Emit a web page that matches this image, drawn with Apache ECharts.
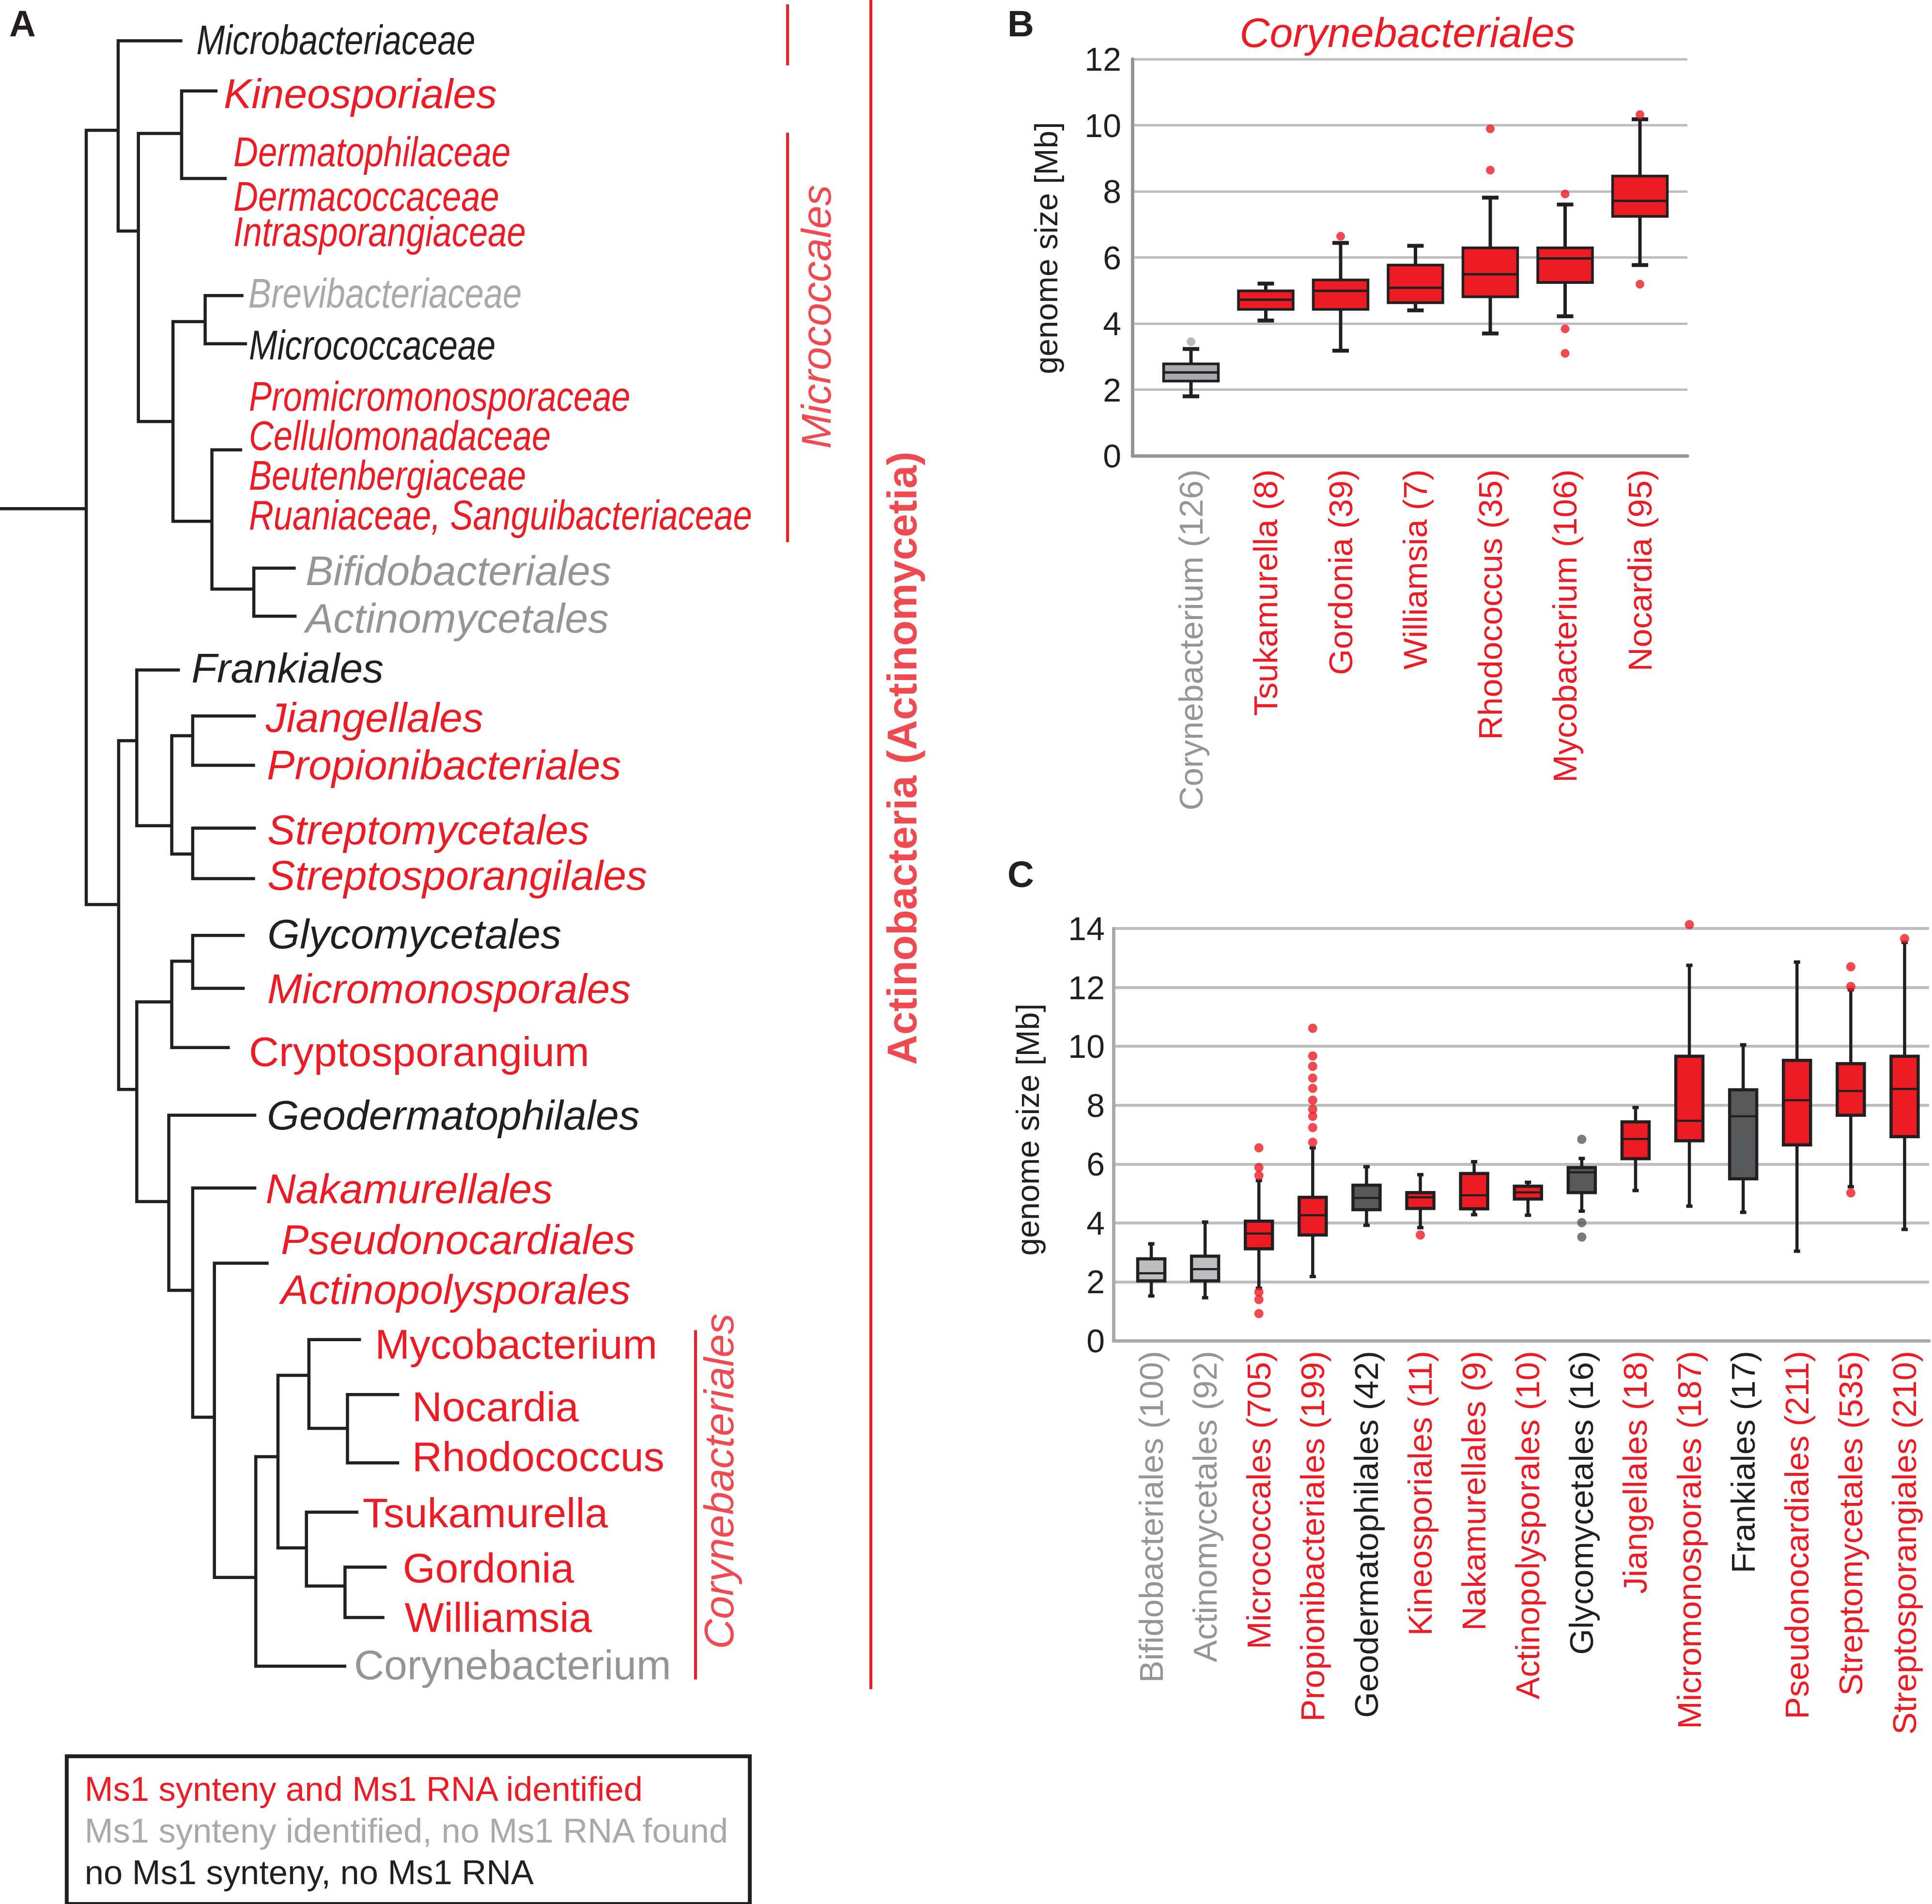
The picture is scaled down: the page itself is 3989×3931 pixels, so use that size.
<!DOCTYPE html>
<html><head><meta charset="utf-8">
<script src="https://cdn.jsdelivr.net/npm/echarts@6/dist/echarts.min.js"></script>
<style>html,body{margin:0;padding:0;background:#fff}#c{width:3989px;height:3931px}</style>
</head><body><div id="c"></div>
<script>
// ================= DATA =================
// Ms1 status categories
const statusKeys = ['rna', 'syn', 'none'];
const statusNames = {
  rna: 'Ms1 synteny and Ms1 RNA identified',
  syn: 'Ms1 synteny identified, no Ms1 RNA found',
  none: 'no Ms1 synteny, no Ms1 RNA'
};

// Panel B – Corynebacteriales genera
const bCategories = ['Corynebacterium', 'Tsukamurella', 'Gordonia', 'Williamsia', 'Rhodococcus', 'Mycobacterium', 'Nocardia'];
const bCounts = [126, 8, 39, 7, 35, 106, 95];
const bStatus = ['syn', 'rna', 'rna', 'rna', 'rna', 'rna', 'rna'];
// [lower whisker, Q1, median, Q3, upper whisker]  (genome size, Mb)
const bBoxes = [
  [1.80, 2.26, 2.52, 2.78, 3.23],
  [4.09, 4.43, 4.72, 4.99, 5.21],
  [3.18, 4.43, 4.99, 5.32, 6.44],
  [4.40, 4.63, 5.08, 5.77, 6.35],
  [3.70, 4.81, 5.49, 6.29, 7.81],
  [4.22, 5.24, 5.97, 6.29, 7.60],
  [5.77, 7.24, 7.71, 8.46, 10.18]
];
const bOutliers = [[0, 3.45], [2, 6.64], [4, 9.89], [4, 8.64], [5, 7.92], [5, 3.84], [5, 3.10], [6, 10.32], [6, 5.19]];
const bYTicks = { min: 0, max: 12, step: 2 };

// Panel C – Actinobacteria orders
const cCategories = ['Bifidobacteriales', 'Actinomycetales', 'Micrococcales', 'Propionibacteriales', 'Geodermatophilales',
  'Kineosporiales', 'Nakamurellales', 'Actinopolysporales', 'Glycomycetales', 'Jiangellales', 'Micromonosporales',
  'Frankiales', 'Pseudonocardiales', 'Streptomycetales', 'Streptosporangiales'];
const cCounts = [100, 92, 705, 199, 42, 11, 9, 10, 16, 18, 187, 17, 211, 535, 210];
const cStatus = ['syn', 'syn', 'rna', 'rna', 'none', 'rna', 'rna', 'rna', 'none', 'rna', 'rna', 'none', 'rna', 'rna', 'rna'];
const cBoxes = [
  [1.52, 2.03, 2.29, 2.78, 3.29],
  [1.46, 2.03, 2.43, 2.87, 4.03],
  [1.78, 3.12, 3.64, 4.06, 5.44],
  [2.18, 3.59, 4.26, 4.87, 6.55],
  [3.92, 4.45, 4.85, 5.28, 5.91],
  [3.84, 4.49, 4.87, 5.03, 5.64],
  [4.28, 4.48, 4.94, 5.68, 6.08],
  [4.26, 4.81, 5.04, 5.25, 5.38],
  [4.40, 5.03, 5.72, 5.88, 6.19],
  [5.10, 6.18, 6.85, 7.43, 7.92],
  [4.57, 6.79, 7.47, 9.66, 12.75],
  [4.36, 5.50, 7.62, 8.52, 10.05],
  [3.04, 6.65, 8.17, 9.52, 12.86],
  [5.23, 7.66, 8.48, 9.41, 11.92],
  [3.78, 6.93, 8.55, 9.66, 13.53]
];
const cOutliers = [
  [2, 6.55], [2, 5.88], [2, 5.61], [2, 1.65], [2, 1.40], [2, 0.92],
  [3, 10.61], [3, 9.67], [3, 9.32], [3, 8.92], [3, 8.57], [3, 8.17], [3, 7.86], [3, 7.62], [3, 7.24], [3, 6.74],
  [5, 3.59],
  [8, 6.84], [8, 4.01], [8, 3.52],
  [10, 14.13],
  [13, 12.70], [13, 12.03], [13, 5.02],
  [14, 13.66]
];
const cYTicks = { min: 0, max: 14, step: 2 };

// Panel A – cladogram (branch depth x, row y)
// internal nodes: [id, depth, row, child1, child2]
const treeNodes = [
  ['R', 70, 412.8, 'N1', 'N2'],
  ['N1', 95.9, 105.7, 'Microbacteriaceae', 'N3'],
  ['N3', 112.3, 187.5, 'N4', 'N5'],
  ['N4', 147.4, 108.3, 'Kineosporiales', 'DermGroup'],
  ['N5', 140.4, 342, 'N6', 'N7'],
  ['N6', 166.5, 261, 'Brevibacteriaceae', 'Micrococcaceae'],
  ['N7', 172, 423, 'PromicroGroup', 'N8'],
  ['N8', 206, 478, 'Bifidobacteriales', 'Actinomycetales'],
  ['N2', 96.3, 734, 'N9', 'N10'],
  ['N9', 111, 601, 'Frankiales', 'N11'],
  ['N11', 139.4, 670, 'N12', 'N13'],
  ['N12', 156.4, 597, 'Jiangellales', 'Propionibacteriales'],
  ['N13', 156.4, 693, 'Streptomycetales', 'Streptosporangilales'],
  ['N10', 111, 884, 'N14', 'N15'],
  ['N14', 139.4, 813, 'N16', 'Cryptosporangium'],
  ['N16', 156.4, 780, 'Glycomycetales', 'Micromonosporales'],
  ['N15', 137, 975, 'Geodermatophilales', 'N17'],
  ['N17', 156.4, 1047, 'Nakamurellales', 'N18'],
  ['N18', 174, 1150, 'PseudoGroup', 'N19'],
  ['N19', 207.6, 1280, 'N20', 'Corynebacterium'],
  ['N20', 225.6, 1182, 'N21', 'N22'],
  ['N21', 250.7, 1116, 'Mycobacterium', 'N23'],
  ['N23', 282, 1159, 'Nocardia', 'Rhodococcus'],
  ['N22', 248.7, 1256, 'Tsukamurella', 'N24'],
  ['N24', 280, 1287, 'Gordonia', 'Williamsia']
];
// leaf tips: [id, depth, row]
const treeTips = [
  ['Microbacteriaceae', 148, 33.1], ['Kineosporiales', 176.5, 73.8], ['DermGroup', 184, 144.8],
  ['Brevibacteriaceae', 197.6, 239.8], ['Micrococcaceae', 200.5, 279], ['PromicroGroup', 196.5, 365],
  ['Bifidobacteriales', 240, 461], ['Actinomycetales', 240.7, 500], ['Frankiales', 146, 543.7],
  ['Jiangellales', 207.6, 581], ['Propionibacteriales', 207, 621], ['Streptomycetales', 207.6, 672],
  ['Streptosporangilales', 207, 713], ['Glycomycetales', 198.6, 759], ['Micromonosporales', 198.6, 802],
  ['Cryptosporangium', 186.5, 850], ['Geodermatophilales', 208, 905], ['Nakamurellales', 208, 964],
  ['PseudoGroup', 218, 1025], ['Mycobacterium', 293, 1087], ['Nocardia', 324, 1131.6],
  ['Rhodococcus', 324, 1187], ['Tsukamurella', 290.8, 1227], ['Gordonia', 313.8, 1271.6],
  ['Williamsia', 312, 1312.5], ['Corynebacterium', 281, 1352]
];
// taxon labels: [text, Ms1 status, rank]
const taxa = [
  ['Microbacteriaceae', 'none', 'family'], ['Kineosporiales', 'rna', 'order'],
  ['Dermatophilaceae', 'rna', 'family'], ['Dermacoccaceae', 'rna', 'family'], ['Intrasporangiaceae', 'rna', 'family'],
  ['Brevibacteriaceae', 'syn', 'family'], ['Micrococcaceae', 'none', 'family'],
  ['Promicromonosporaceae', 'rna', 'family'], ['Cellulomonadaceae', 'rna', 'family'], ['Beutenbergiaceae', 'rna', 'family'],
  ['Ruaniaceae, Sanguibacteriaceae', 'rna', 'family'],
  ['Bifidobacteriales', 'syn', 'order'], ['Actinomycetales', 'syn', 'order'],
  ['Frankiales', 'none', 'order'], ['Jiangellales', 'rna', 'order'], ['Propionibacteriales', 'rna', 'order'],
  ['Streptomycetales', 'rna', 'order'], ['Streptosporangilales', 'rna', 'order'],
  ['Glycomycetales', 'none', 'order'], ['Micromonosporales', 'rna', 'order'], ['Cryptosporangium', 'rna', 'genus'],
  ['Geodermatophilales', 'none', 'order'], ['Nakamurellales', 'rna', 'order'],
  ['Pseudonocardiales', 'rna', 'order'], ['Actinopolysporales', 'rna', 'order'],
  ['Mycobacterium', 'rna', 'genus'], ['Nocardia', 'rna', 'genus'], ['Rhodococcus', 'rna', 'genus'],
  ['Tsukamurella', 'rna', 'genus'], ['Gordonia', 'rna', 'genus'], ['Williamsia', 'rna', 'genus'],
  ['Corynebacterium', 'syn', 'genus']
];
// clade brackets: [name, first row, last row]
const clades = [
  ['', 3.5, 53],
  ['Micrococcales', 107.7, 439.9],
  ['Corynebacteriales', 1079.4, 1362.8],
  ['Actinobacteria (Actinomycetia)', 0, 1370.7]
];

// ================= LAYOUT / STYLE =================
const W = 3989, H = 3931;
const TREE_W = 1568, TREE_H = 1545;           // tree coordinate space
const LABEL_AT = {                            // label anchor in tree space [x, row]
  'Microbacteriaceae': [159.4, 32.5], 'Kineosporiales': [181.6, 75.9],
  'Dermatophilaceae': [189.5, 123.3], 'Dermacoccaceae': [189.5, 159.4], 'Intrasporangiaceae': [189.5, 188],
  'Brevibacteriaceae': [201.6, 238.1], 'Micrococcaceae': [202, 280.2],
  'Promicromonosporaceae': [202, 321.5], 'Cellulomonadaceae': [202, 353.7], 'Beutenbergiaceae': [202, 385.8],
  'Ruaniaceae, Sanguibacteriaceae': [202, 418],
  'Bifidobacteriales': [248, 463], 'Actinomycetales': [248, 501.6], 'Frankiales': [155.4, 541.9],
  'Jiangellales': [215.6, 582], 'Propionibacteriales': [216.6, 620.5], 'Streptomycetales': [217, 673.4],
  'Streptosporangilales': [217, 710.3], 'Glycomycetales': [217, 757.7], 'Micromonosporales': [217, 802.3],
  'Cryptosporangium': [202, 853.2], 'Geodermatophilales': [216.6, 904.8], 'Nakamurellales': [215.6, 964.5],
  'Pseudonocardiales': [228, 1005.9], 'Actinopolysporales': [228, 1046.3],
  'Mycobacterium': [304.3, 1090.8], 'Nocardia': [334.4, 1141.2], 'Rhodococcus': [334.4, 1182],
  'Tsukamurella': [294.3, 1227.3], 'Gordonia': [326.9, 1272.2], 'Williamsia': [328.4, 1312.4],
  'Corynebacterium': [287.3, 1350.7]
};
const CLADE_X = { '': 639.2, 'Micrococcales': 639.2, 'Corynebacteriales': 564.5, 'Actinobacteria (Actinomycetia)': 706.8 };
const CLADE_LABEL_AT = { 'Micrococcales': [662.3, 257.1], 'Corynebacteriales': [583.3, 1202], 'Actinobacteria (Actinomycetia)': [731.9, 615.2] };

const DARK = '#231F20', RED = '#ED1C24', GRAY = '#939598', LGRAY = '#A7A9AC', DGRAY = '#58595B';
function fontAvailable(name) {
  const ctx = document.createElement('canvas').getContext('2d');
  const s = 'Microbacteriaceae WWmm 0123456789';
  ctx.font = '72px monospace'; const w0 = ctx.measureText(s).width;
  ctx.font = '72px "' + name + '", monospace'; const w1 = ctx.measureText(s).width;
  return Math.abs(w1 - w0) > 0.5;
}
const HAS_NARROW = fontAvailable('Liberation Sans Narrow');
const SANS = '"Liberation Sans", Arial, Helvetica, sans-serif';
const NARROW = HAS_NARROW ? '"Liberation Sans Narrow", "Arial Narrow", sans-serif' : SANS;
const NS = HAS_NARROW ? 1 : 0.82;          // font-size factor for axis/legend text when no narrow face
const NARROW_SCALE = HAS_NARROW ? 1 : 0.82; // horizontal squeeze for tree family names

const textColor = { rna: RED, syn: GRAY, none: DARK };
const legendColor = { rna: RED, syn: LGRAY, none: DARK };
const outlierColor = { rna: RED, syn: LGRAY, none: DGRAY };
const bFill = { rna: RED, syn: LGRAY, none: DGRAY };
const cFill = { rna: RED, syn: '#BCBEC0', none: DGRAY };

// ================= BUILD =================
const posMap = {};
treeTips.forEach(t => { posMap[t[0]] = [t[1], t[2]]; });
treeNodes.forEach(n => { posMap[n[0]] = [n[1], n[2]]; });
const branchData = treeNodes.map(([id, x, y, a, b]) => {
  const A = posMap[a], B = posMap[b];
  return { coords: [[A[0], A[1]], [x, A[1]], [x, B[1]], [B[0], B[1]]] };
});
const root = treeNodes[0];
branchData.push({ coords: [[0, root[2]], [root[1], root[2]]] });
const bracketData = clades.map(([name, y0, y1]) => ({ coords: [[CLADE_X[name], y0], [CLADE_X[name], y1]] }));

function taxonLabelSeries(status) {
  const idx = [];
  taxa.forEach((t, i) => { if (t[1] === status) idx.push(i); });
  return {
    type: 'custom', name: statusNames[status], xAxisIndex: 0, yAxisIndex: 0, silent: true, clip: false, z: 5,
    encode: { x: 0, y: 1 },
    data: idx.map(i => LABEL_AT[taxa[i][0]].concat([i])),
    renderItem: function (params, api) {
      const t = taxa[api.value(2)];
      const p = api.coord([api.value(0), api.value(1)]);
      const fam = t[2] === 'family';
      return {
        type: 'text', x: p[0], y: p[1], scaleX: fam ? NARROW_SCALE : 1, scaleY: 1,
        style: {
          text: t[0], fontSize: 86, fontFamily: fam ? NARROW : SANS,
          fontStyle: t[2] === 'genus' ? 'normal' : 'italic',
          fill: t[0] === 'Brevibacteriaceae' ? LGRAY : textColor[t[1]],
          align: 'left', verticalAlign: 'middle', textAlign: 'left', textVerticalAlign: 'middle'
        }
      };
    }
  };
}

function boxRenderer(fills, statuses, cfg) {
  return function (params, api) {
    const i = api.value(0);
    const lw = api.value(1), q1 = api.value(2), md = api.value(3), q3 = api.value(4), uw = api.value(5);
    const xc = api.coord([i, 0])[0];
    const bw = api.size([1, 0])[0] * cfg.ratio;
    const y = v => api.coord([i, v])[1];
    const fill = fills[statuses[i]];
    return {
      type: 'group', children: [
        { type: 'line', shape: { x1: xc, y1: y(uw), x2: xc, y2: y(lw) }, style: { stroke: DARK, lineWidth: cfg.whisker } },
        { type: 'rect', shape: { x: xc - cfg.cap / 2, y: y(uw) - cfg.capH / 2, width: cfg.cap, height: cfg.capH }, style: { fill: DARK } },
        { type: 'rect', shape: { x: xc - cfg.cap / 2, y: y(lw) - cfg.capH / 2, width: cfg.cap, height: cfg.capH }, style: { fill: DARK } },
        { type: 'rect', shape: { x: xc - bw / 2, y: y(q3), width: bw, height: y(q1) - y(q3) }, style: { fill: fill, stroke: DARK, lineWidth: cfg.border } },
        { type: 'line', shape: { x1: xc - bw / 2, y1: y(md), x2: xc + bw / 2, y2: y(md) }, style: { stroke: DARK, lineWidth: cfg.median } }
      ]
    };
  };
}

const G_B = { left: 2338, top: 122, width: 1146, height: 819 };
const G_Bbox = { left: 2381.75, top: 122, width: 1081.5, height: 819 };
const G_C = { left: 2299, top: 1917, width: 1684, height: 851 };
const G_Cbox = { left: 2321.5, top: 1917, width: 1666.5, height: 851 };

function bgAxes(grid, ticks, axisColor, labelMargin, gridColor, gridWidth) {
  return {
    x: { type: 'value', gridIndex: grid, min: 0, max: 1, axisLine: { show: true, onZero: false, lineStyle: { color: axisColor, width: 7 } },
         axisTick: { show: false }, axisLabel: { show: false }, splitLine: { show: false } },
    y: { type: 'value', gridIndex: grid, min: ticks.min, max: ticks.max, interval: ticks.step,
         axisLine: { show: true, onZero: false, lineStyle: { color: axisColor, width: 7 } }, axisTick: { show: false },
         axisLabel: { fontSize: 83 * NS, fontFamily: NARROW, color: DARK, margin: labelMargin, showMinLabel: true, showMaxLabel: true },
         splitLine: { show: true, lineStyle: { color: gridColor, width: gridWidth } } }
  };
}
function catAxis(grid, cats, counts, statuses, margin) {
  return {
    type: 'category', gridIndex: grid, data: cats.map((c, i) => c + ' (' + counts[i] + ')'),
    axisLine: { show: false }, axisTick: { show: false }, splitLine: { show: false },
    axisLabel: { interval: 0, rotate: 90, margin: margin, fontSize: 84 * NS, fontFamily: NARROW,
                 color: (v, i) => textColor[statuses[i]] }
  };
}
const bBg = bgAxes(1, bYTicks, '#939598', 23, '#BCBEC0', 5);
const cBg = bgAxes(3, cYTicks, '#A7A9AC', 18, '#BCBEC0', 6);

const option = {
  animation: false,
  backgroundColor: '#ffffff',
  grid: [
    { left: 0, top: 0, width: W, height: H, outerBoundsMode: 'none' },
    Object.assign({ outerBoundsMode: 'none' }, G_B),
    Object.assign({ outerBoundsMode: 'none' }, G_Bbox),
    Object.assign({ outerBoundsMode: 'none' }, G_C),
    Object.assign({ outerBoundsMode: 'none' }, G_Cbox)
  ],
  xAxis: [
    { type: 'value', gridIndex: 0, min: 0, max: TREE_W, show: false },
    bBg.x,
    catAxis(2, bCategories, bCounts, bStatus, 28),
    cBg.x,
    catAxis(4, cCategories, cCounts, cStatus, 21)
  ],
  yAxis: [
    { type: 'value', gridIndex: 0, min: 0, max: TREE_H, inverse: true, show: false },
    bBg.y,
    { type: 'value', gridIndex: 2, min: bYTicks.min, max: bYTicks.max, show: false },
    cBg.y,
    { type: 'value', gridIndex: 4, min: cYTicks.min, max: cYTicks.max, show: false }
  ],
  legend: {
    left: 137.8, top: 3626, orient: 'vertical', selectedMode: false,
    icon: 'none', itemWidth: 0, itemHeight: 86, itemGap: 0,
    padding: [24, 41, 23, 32], borderColor: DARK, borderWidth: 8, backgroundColor: '#fff',
    textStyle: { fontSize: 86 * NS, fontFamily: NARROW, lineHeight: 86 },
    data: statusKeys.map(k => ({ name: statusNames[k], textStyle: { color: legendColor[k] } }))
  },
  graphic: [
    { type: 'text', x: 19, y: 48, style: { text: 'A', fontSize: 76, fontWeight: 'bold', fontFamily: SANS, fill: DARK, align: 'left', verticalAlign: 'middle', textAlign: 'left', textVerticalAlign: 'middle' } },
    { type: 'text', x: 2080, y: 48, style: { text: 'B', fontSize: 76, fontWeight: 'bold', fontFamily: SANS, fill: DARK, align: 'left', verticalAlign: 'middle', textAlign: 'left', textVerticalAlign: 'middle' } },
    { type: 'text', x: 2080, y: 1804, style: { text: 'C', fontSize: 76, fontWeight: 'bold', fontFamily: SANS, fill: DARK, align: 'left', verticalAlign: 'middle', textAlign: 'left', textVerticalAlign: 'middle' } },
    { type: 'text', x: 2906, y: 67, style: { text: 'Corynebacteriales', fontSize: 86, fontStyle: 'italic', fontFamily: SANS, fill: RED, align: 'center', verticalAlign: 'middle', textAlign: 'center', textVerticalAlign: 'middle' } },
    { type: 'text', x: 2160, y: 512, rotation: Math.PI / 2, style: { text: 'genome size [Mb]', fontSize: 66, fontFamily: SANS, fill: DARK, align: 'center', verticalAlign: 'middle', textAlign: 'center', textVerticalAlign: 'middle' } },
    { type: 'text', x: 2122, y: 2332, rotation: Math.PI / 2, style: { text: 'genome size [Mb]', fontSize: 66, fontFamily: SANS, fill: DARK, align: 'center', verticalAlign: 'middle', textAlign: 'center', textVerticalAlign: 'middle' } }
  ],
  series: [
    { type: 'lines', name: 'tree', coordinateSystem: 'cartesian2d', xAxisIndex: 0, yAxisIndex: 0, polyline: true, silent: true, z: 3,
      lineStyle: { color: DARK, width: 6.5, opacity: 1, join: 'miter', cap: 'butt' }, data: branchData },
    { type: 'lines', name: 'clades', coordinateSystem: 'cartesian2d', xAxisIndex: 0, yAxisIndex: 0, polyline: true, silent: true, z: 3,
      lineStyle: { color: RED, width: 6, opacity: 1, cap: 'butt' }, data: bracketData },
    taxonLabelSeries('rna'), taxonLabelSeries('syn'), taxonLabelSeries('none'),
    { type: 'scatter', name: 'clade labels', xAxisIndex: 0, yAxisIndex: 0, symbolSize: 1, itemStyle: { color: 'rgba(0,0,0,0)' }, silent: true, z: 5,
      data: clades.filter(c => c[0]).map(c => ({
        name: c[0], value: CLADE_LABEL_AT[c[0]],
        label: c[0].indexOf('Actinobacteria') === 0 ? { fontWeight: 'bold', fontStyle: 'normal' } : { fontWeight: 'normal', fontStyle: 'italic' }
      })),
      label: { show: true, position: 'inside', rotate: 90, align: 'center', verticalAlign: 'middle', formatter: '{b}', fontSize: 86, fontFamily: SANS, color: RED } },
    { type: 'custom', name: 'B boxes', xAxisIndex: 2, yAxisIndex: 2, clip: false, z: 4,
      renderItem: boxRenderer(bFill, bStatus, { ratio: 0.731, cap: 34, capH: 8, whisker: 7, border: 5.5, median: 5 }),
      encode: { x: 0, y: [1, 2, 3, 4, 5] }, data: bBoxes.map((b, i) => [i].concat(b)) },
    { type: 'scatter', name: 'B outliers', xAxisIndex: 2, yAxisIndex: 2, clip: false, symbolSize: 18, z: 5, silent: true,
      data: bOutliers.map(o => ({ value: o, itemStyle: { color: outlierColor[bStatus[o[0]]] } })) },
    { type: 'custom', name: 'C boxes', xAxisIndex: 4, yAxisIndex: 4, clip: false, z: 4,
      renderItem: boxRenderer(cFill, cStatus, { ratio: 0.504, cap: 13, capH: 7, whisker: 6.5, border: 6.5, median: 4.5 }),
      encode: { x: 0, y: [1, 2, 3, 4, 5] }, data: cBoxes.map((b, i) => [i].concat(b)) },
    { type: 'scatter', name: 'C outliers', xAxisIndex: 4, yAxisIndex: 4, clip: false, symbolSize: 19, z: 5, silent: true,
      data: cOutliers.map(o => ({ value: o, itemStyle: { color: outlierColor[cStatus[o[0]]] } })) }
  ]
};

const chart = echarts.init(document.getElementById('c'), null, { renderer: 'svg', width: W, height: H });
chart.setOption(option);
</script>
</body></html>
